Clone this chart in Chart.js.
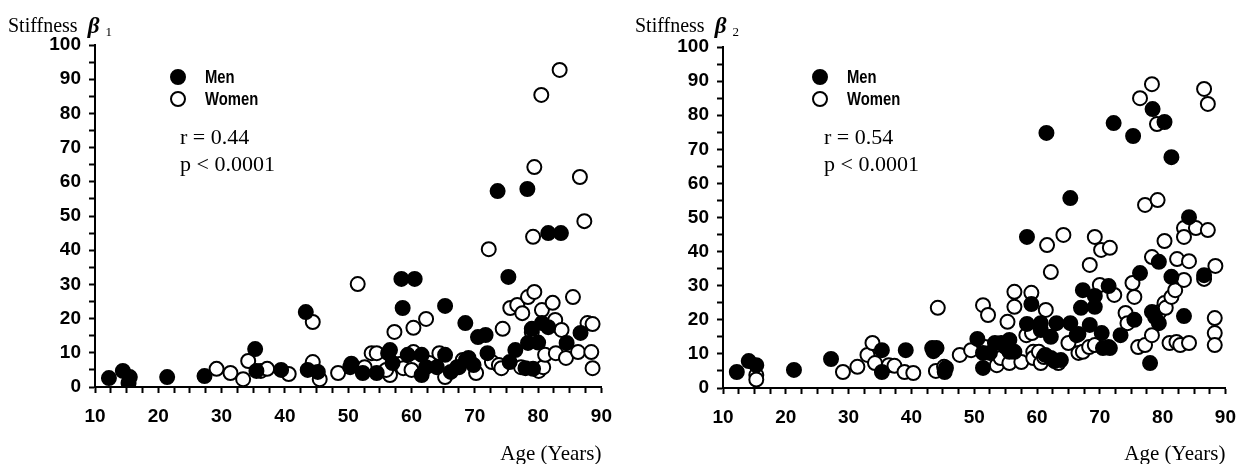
<!DOCTYPE html>
<html><head><meta charset="utf-8">
<script src="https://cdn.jsdelivr.net/npm/chart.js@4.4.1/dist/chart.umd.min.js"></script>
<style>
html,body{margin:0;padding:0;background:#fff;}
#wrap{position:relative;width:1248px;height:464px;overflow:hidden;}
canvas{position:absolute;top:0;}
</style></head><body>
<div id="wrap">
<canvas id="c1" style="left:0px"></canvas>
<canvas id="c2" style="left:624px"></canvas>
</div>
<script>
// ---------- DATA ----------
const ageTicks = [10, 20, 30, 40, 50, 60, 70, 80, 90];
const stiffTicks = [0, 10, 20, 30, 40, 50, 60, 70, 80, 90, 100];

// Stiffness beta 1
const men1Age   = [12.2,14.4,15.5,15.3,21.4,27.3,35.3,35.5,39.4,43.3,43.6,45.2,50.3,50.5,52.3,54.5,56.3,56.6,57.0,58.4,60.5,58.6,59.4,61.6,61.6,62.3,64.0,65.3,65.3,66.2,67.2,67.5,68.5,68.6,69.0,69.8,70.5,71.7,72.0,73.6,75.3,75.5,76.4,78.3,78.4,78.0,79.2,80.6,81.6,81.6,83.6,84.5,86.7,79.0,80.0];
const men1Stiff = [2.6,4.7,2.9,1.2,2.9,3.2,11.1,4.7,5.0,21.9,5.0,4.4,5.8,6.8,4.1,4.1,9.9,10.8,7.0,31.6,31.6,23.1,9.4,9.4,3.5,5.8,5.8,23.7,9.4,4.4,5.8,5.8,18.7,7.9,8.5,6.4,14.6,15.2,9.9,57.3,32.2,7.3,10.8,57.9,12.9,5.5,5.3,18.7,17.5,45.0,45.0,12.9,15.8,17.0,13.0];
const women1Age   = [29.2,31.4,33.4,34.2,36.2,37.2,40.6,44.4,44.3,44.4,45.5,48.4,51.5,52.6,53.7,54.5,56.6,56.0,57.3,58.1,58.7,60.0,60.3,60.3,62.3,62.8,64.4,65.3,68.1,70.2,72.2,72.7,73.8,74.2,74.4,75.6,76.7,77.5,77.3,78.4,79.4,79.0,79.2,79.4,80.5,80.1,80.6,80.8,81.1,82.3,82.7,82.8,83.4,83.7,84.4,85.5,86.3,86.6,87.3,87.8,88.6,88.4,88.6];
const women1Stiff = [5.3,4.1,2.3,7.6,4.7,5.3,3.8,19.0,5.8,7.3,2.3,4.1,30.1,5.8,9.9,9.9,3.5,5.0,16.1,6.7,5.5,5.0,17.3,10.2,19.9,7.0,9.9,2.9,7.9,4.1,40.3,7.3,6.4,5.5,17.0,23.1,24.0,21.6,5.8,26.3,27.8,16.0,43.9,64.3,85.4,4.7,22.5,5.8,9.4,24.6,19.6,9.9,92.7,16.7,8.5,26.3,10.2,61.4,48.5,18.7,18.4,10.2,5.5];

// Stiffness beta 2
const men2Age   = [12.2,14.1,15.3,21.3,27.2,35.3,35.3,39.1,43.3,44.0,43.5,45.3,45.5,50.5,51.4,51.4,52.5,53.3,54.3,55.0,55.6,55.6,56.4,58.4,58.4,59.1,60.6,60.6,61.3,61.5,62.2,62.2,62.8,63.1,63.8,65.3,65.3,66.3,66.6,67.0,67.3,68.4,69.2,69.2,70.3,70.5,71.4,71.6,72.2,73.3,75.3,75.5,76.4,78.0,78.3,78.4,78.8,79.4,79.4,80.3,81.4,81.4,83.4,84.2,86.6];
const men2Stiff = [4.7,7.9,6.7,5.3,8.5,11.1,4.7,11.1,11.7,11.7,10.8,4.7,5.9,14.4,10.3,5.9,10.3,13.2,13.2,12.0,14.1,10.6,10.6,44.3,18.8,24.6,19.0,17.0,9.7,74.8,15.0,8.8,7.9,19.0,8.2,55.7,19.0,15.5,15.8,23.5,28.7,18.5,27.0,23.8,16.1,11.7,29.9,11.7,77.7,15.5,73.9,20.0,33.7,7.3,22.3,81.8,20.8,19.0,37.0,78.0,32.6,67.7,21.1,50.1,33.1];
const women2Age   = [15.3,15.3,29.1,31.4,33.0,33.8,34.2,36.4,37.3,38.9,40.3,43.9,44.2,45.2,47.7,49.5,51.4,51.7,52.2,53.6,54.2,55.3,55.6,56.4,56.4,57.5,58.3,59.1,59.2,59.4,59.4,60.3,60.6,61.1,61.4,61.6,62.2,63.4,64.2,65.0,66.6,67.3,68.3,68.4,69.2,69.2,70.0,70.2,71.4,71.6,72.3,74.1,74.4,75.2,75.5,76.1,76.4,77.2,77.2,78.3,78.3,78.3,79.1,79.2,79.5,80.3,80.3,80.5,81.1,81.4,82.0,82.2,82.3,82.8,83.4,83.4,83.4,84.2,84.2,85.3,86.6,86.6,87.2,87.2,88.3,88.3,88.3,88.4];
const women2Stiff = [3.8,2.5,4.7,6.2,9.7,13.2,7.3,6.7,6.5,4.7,4.4,5.0,23.5,6.2,9.7,11.1,24.3,12.0,21.4,6.7,8.8,19.4,7.3,28.2,23.8,7.6,15.5,27.9,16.1,10.6,8.8,10.6,7.3,9.1,22.9,41.9,34.0,7.3,44.9,13.2,10.3,10.6,12.0,36.1,44.3,12.6,30.2,40.5,12.0,41.1,27.3,22.0,19.0,30.8,26.7,12.0,85.0,53.7,12.6,89.1,38.4,15.5,77.4,55.1,22.3,43.1,24.9,23.5,13.2,26.7,28.7,13.5,37.8,12.6,46.9,44.3,31.7,37.2,13.2,46.9,87.7,32.0,83.3,46.3,20.5,16.1,12.6,35.8];

// ---------- RENDER ----------
const TICK_FONT = { family: "'Liberation Sans', Arial, sans-serif", size: 19, weight: 'bold' };
const SERIF = "'Liberation Serif', 'Times New Roman', serif";
const CANVAS_H = 467;

const annotPlugin = {
  id: 'annot',
  afterDraw(chart, args, o) {
    const ctx = chart.ctx;
    ctx.save();
    ctx.fillStyle = '#000';
    // y-axis title
    ctx.textBaseline = 'alphabetic';
    ctx.textAlign = 'left';
    ctx.font = '20px ' + SERIF;
    ctx.fillText('Stiffness', o.titleX, 32);
    const w = ctx.measureText('Stiffness ').width;
    ctx.font = 'italic bold 23px ' + SERIF;
    ctx.fillText('\u03B2', o.titleX + w + 5, 33);
    const wb = ctx.measureText('\u03B2').width;
    ctx.font = '13px ' + SERIF;
    ctx.fillText(o.sub, o.titleX + w + 5 + wb + 6, 36);
    // legend
    const lx = o.legX, ly = 77;
    ctx.lineWidth = 2;
    ctx.strokeStyle = '#000';
    ctx.beginPath(); ctx.arc(lx, ly, 7, 0, Math.PI * 2); ctx.fill(); ctx.stroke();
    ctx.fillStyle = '#fff';
    ctx.beginPath(); ctx.arc(lx, ly + 22, 7, 0, Math.PI * 2); ctx.fill(); ctx.stroke();
    ctx.fillStyle = '#000';
    ctx.font = "bold 19px 'Liberation Sans', Arial, sans-serif";
    ctx.textBaseline = 'middle';
    [0, 1].forEach(i => {
      ctx.save();
      ctx.translate(lx + 27, ly + 22 * i + 1);
      ctx.scale(0.78, 1);
      ctx.fillText(chart.data.datasets[i].label, 0, 0);
      ctx.restore();
    });
    // stats
    ctx.font = '22px ' + SERIF;
    ctx.fillText(o.r, o.statX, 138);
    ctx.fillText('p < 0.0001', o.statX, 165);
    ctx.restore();
  }
};

function makeChart(id, menAge, menVals, womenAge, womenVals, cfg) {
  const el = document.getElementById(id);
  el.width = 624; el.height = CANVAS_H;
  return new Chart(el, {
    type: 'scatter',
    data: {
      datasets: [
        { label: 'Men', data: menAge.map((a, i) => ({ x: a, y: menVals[i] })),
          backgroundColor: '#000', borderColor: '#000', borderWidth: 2, pointRadius: 7, pointHoverRadius: 7 },
        { label: 'Women', data: womenAge.map((a, i) => ({ x: a, y: womenVals[i] })),
          backgroundColor: '#fff', borderColor: '#000', borderWidth: 2, pointRadius: 7, pointHoverRadius: 7 }
      ]
    },
    options: {
      responsive: false,
      animation: false,
      events: [],
      layout: { padding: { top: cfg.top, right: cfg.right, left: 0, bottom: 0 } },
      plugins: {
        legend: { display: false },
        tooltip: { enabled: false },
        annot: cfg.annot
      },
      scales: {
        x: {
          type: 'linear', min: 10, max: 90,
          border: { display: true, color: '#000', width: 2 },
          grid: { drawOnChartArea: false, drawTicks: true, tickLength: 6, tickColor: '#000', tickWidth: 2 },
          ticks: { stepSize: 2.5, autoSkip: false, maxRotation: 0, color: '#000', font: TICK_FONT, padding: 12,
                   callback: v => ageTicks.includes(v) ? String(v) : '' },
          title: { display: true, text: 'Age (Years)', align: 'end', color: '#000',
                   font: { family: SERIF, size: 21 }, padding: { top: 0, bottom: 0 } },
          afterFit: s => { s.height = CANVAS_H - cfg.bottom; }
        },
        y: {
          type: 'linear', min: 0, max: 100,
          border: { display: true, color: '#000', width: 2 },
          grid: { drawOnChartArea: false, drawTicks: true, tickLength: 6, tickColor: '#000', tickWidth: 2 },
          ticks: { stepSize: 5, autoSkip: false, color: '#000', font: TICK_FONT, padding: 8,
                   callback: v => stiffTicks.includes(v) ? String(v) : '' },
          afterFit: s => { s.width = cfg.left; }
        }
      }
    },
    plugins: [annotPlugin]
  });
}

makeChart('c1', men1Age, men1Stiff, women1Age, women1Stiff,
  { left: 95, right: 17, top: 45, bottom: 387,
    annot: { titleX: 8, sub: '1', legX: 178, statX: 180, r: 'r = 0.44' } });
makeChart('c2', men2Age, men2Stiff, women2Age, women2Stiff,
  { left: 99, right: 13, top: 47, bottom: 388,
    annot: { titleX: 11, sub: '2', legX: 196, statX: 200, r: 'r = 0.54' } });
</script>
</body></html>
